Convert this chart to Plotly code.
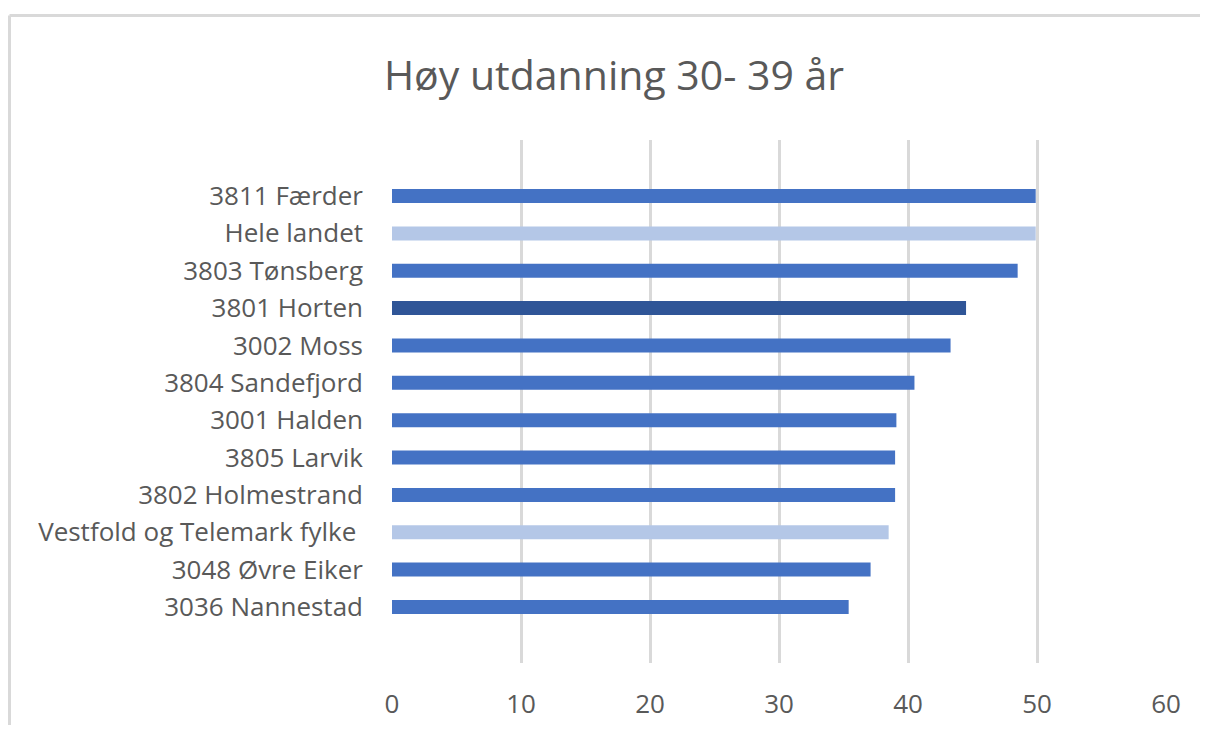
import plotly.graph_objects as go

categories = [
    "3811 Færder",
    "Hele landet",
    "3803 Tønsberg",
    "3801 Horten",
    "3002 Moss",
    "3804 Sandefjord",
    "3001 Halden",
    "3805 Larvik",
    "3802 Holmestrand",
    "Vestfold og Telemark fylke ",
    "3048 Øvre Eiker",
    "3036 Nannestad",
]
values = [49.9, 49.9, 48.5, 44.5, 43.3, 40.5, 39.1, 39.0, 39.0, 38.5, 37.1, 35.4]
bar_colors = [
    "#4472C4", "#B4C7E7", "#4472C4", "#2F5597", "#4472C4", "#4472C4",
    "#4472C4", "#4472C4", "#4472C4", "#B4C7E7", "#4472C4", "#4472C4",
]
x_ticks = [0, 10, 20, 30, 40, 50, 60]
title_text = "Høy utdanning 30- 39 år"

FONT = "Open Sans, Lato, sans-serif"
GRAY = "#595959"

# page body has an 8px margin on every side; size the figure so the page does not scroll
OFF = 8
W, H = 1208 - 2 * OFF, 733 - 2 * OFF
L, T = 392 - OFF, 140 - OFF
R = (W + OFF) - 1166
B = (H + OFF) - 663
PW, PH = W - L - R, H - T - B

fig = go.Figure(
    go.Bar(
        x=values,
        y=categories,
        orientation="h",
        marker=dict(color=bar_colors, line=dict(width=0)),
        width=0.375,
        hoverinfo="x+y",
    )
)

bx = -(L - 1.5) / PW
by = 1 + (T - 7.5) / PH
fig.update_layout(
    width=W,
    height=H,
    margin=dict(l=L, r=R, t=T, b=B, pad=0),
    paper_bgcolor="white",
    plot_bgcolor="white",
    showlegend=False,
    title=dict(
        text=title_text,
        x=(614 - OFF) / W,
        xref="container",
        xanchor="center",
        y=1 - (76 - OFF) / H,
        yref="container",
        yanchor="middle",
        font=dict(family=FONT, size=41, color=GRAY),
    ),
    xaxis=dict(
        range=[0, 60],
        tickvals=x_ticks,
        showgrid=True,
        gridcolor="#D9D9D9",
        gridwidth=2.5,
        zeroline=False,
        showline=False,
        ticks="",
        ticklabelstandoff=23,
        tickfont=dict(family=FONT, size=26, color=GRAY),
        automargin=False,
        fixedrange=True,
    ),
    yaxis=dict(
        type="category",
        categoryorder="array",
        categoryarray=categories,
        range=[12.5, -1.5],
        showgrid=False,
        zeroline=False,
        showline=False,
        ticks="",
        ticklabelstandoff=28,
        tickfont=dict(family=FONT, size=26, color=GRAY),
        automargin=False,
        fixedrange=True,
    ),
    shapes=[
        dict(
            type="line", xref="paper", yref="paper",
            x0=bx, x1=1 + R / PW, y0=by, y1=by,
            line=dict(color="#D9D9D9", width=3), layer="below",
        ),
        dict(
            type="line", xref="paper", yref="paper",
            x0=bx, x1=bx, y0=-B / PH, y1=by,
            line=dict(color="#D9D9D9", width=3), layer="below",
        ),
    ],
)

fig.write_html("out.html")
